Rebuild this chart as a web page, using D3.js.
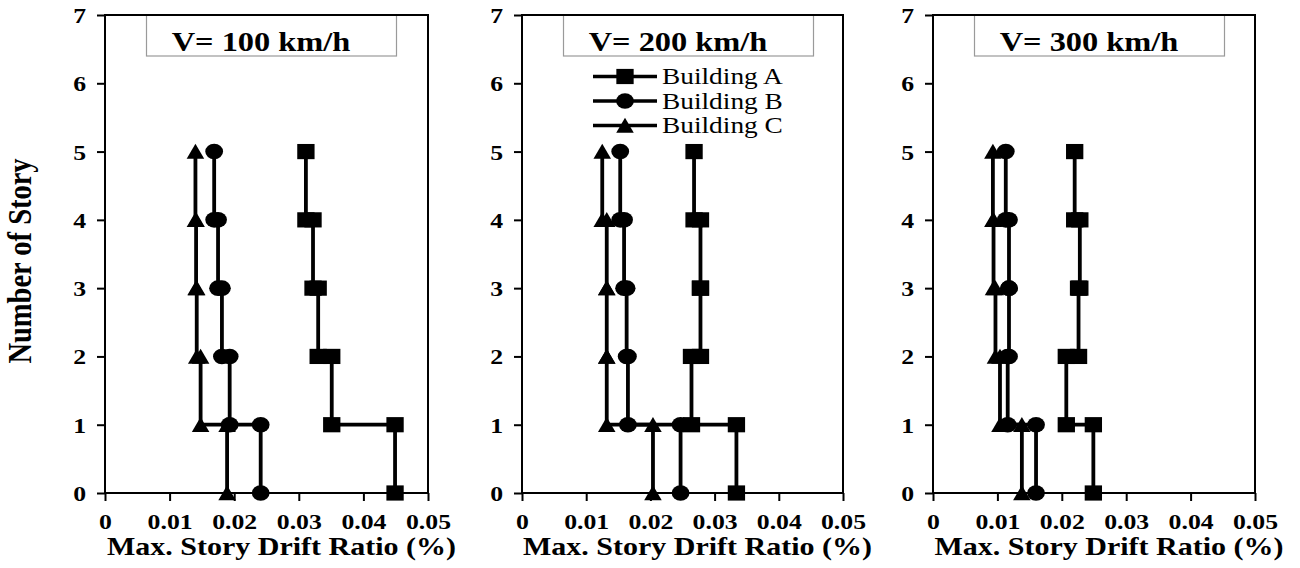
<!DOCTYPE html>
<html>
<head>
<meta charset="utf-8">
<script src="https://cdn.jsdelivr.net/npm/d3@7"></script>
<style>
  html, body { margin: 0; padding: 0; background: #fff; }
  svg { display: block; }
</style>
</head>
<body>
<svg id="chart" width="1300" height="568"></svg>
<script>
// ---------------- data ----------------
const speeds = ["V= 100 km/h", "V= 200 km/h", "V= 300 km/h"];
const buildings = ["Building A", "Building B", "Building C"];
const markerTypes = ["square", "circle", "triangle"];
const stories = [1, 2, 3, 4, 5];
const xTicks = [0, 0.01, 0.02, 0.03, 0.04, 0.05];
const yTicks = [0, 1, 2, 3, 4, 5, 6, 7];

// max story drift ratio per story (story 1..5)
const v100A = [0.0449, 0.0351, 0.0330, 0.0322, 0.0311];
const v100B = [0.0241, 0.0193, 0.0181, 0.0175, 0.0169];
const v100C = [0.0189, 0.0148, 0.0142, 0.0141, 0.0140];

const v200A = [0.0334, 0.0264, 0.0278, 0.0278, 0.0268];
const v200B = [0.0247, 0.0165, 0.0163, 0.0159, 0.0153];
const v200C = [0.0204, 0.0132, 0.0132, 0.0132, 0.0125];

const v300A = [0.0249, 0.0207, 0.0226, 0.0228, 0.0220];
const v300B = [0.0160, 0.0116, 0.0118, 0.0118, 0.0113];
const v300C = [0.0138, 0.0104, 0.0097, 0.0094, 0.0093];

const panelSeries = [
  [v100A, v100B, v100C],
  [v200A, v200B, v200C],
  [v300A, v300B, v300C]
];

// ---------------- layout ----------------
const FONT = "'Liberation Serif', 'Times New Roman', Times, serif";
const SX = 1.17; // horizontal stretch of the original raster
const panelLeft = [105, 522, 933];
const panelWidth = [323, 321, 322];
const plotTop = 15, plotBottom = 493;

const svg = d3.select("#chart");

function stepPoints(vals) {
  const pts = [];
  stories.forEach((s, i) => {
    pts.push([vals[i], s - 1]);
    pts.push([vals[i], s]);
  });
  return pts;
}

function drawMarker(sel, type, cx, cy) {
  const g = sel.append("g").attr("transform", `translate(${cx},${cy}) scale(${SX},1)`);
  if (type === "square") {
    g.append("rect").attr("x", -7.4).attr("y", -7.6).attr("width", 14.8).attr("height", 15.2).attr("fill", "#000");
  } else if (type === "circle") {
    g.append("ellipse").attr("rx", 7.6).attr("ry", 7.8).attr("fill", "#000");
  } else {
    g.append("path").attr("d", "M0,-7.8 L7.5,7.2 L-7.5,7.2 Z").attr("fill", "#000");
  }
}

panelSeries.forEach((series, p) => {
  const left = panelLeft[p], W = panelWidth[p];
  const x = d3.scaleLinear().domain([0, 0.05]).range([left, left + W]);
  const y = d3.scaleLinear().domain([0, 7]).range([plotBottom, plotTop]);
  const g = svg.append("g");

  // title box
  g.append("rect")
    .attr("x", left + 41.5).attr("y", plotTop).attr("width", 250).attr("height", 41)
    .attr("fill", "#fff").attr("stroke", "#9a9a9a").attr("stroke-width", 1.2);
  g.append("text")
    .attr("transform", `translate(${left + 156},${plotTop + 36}) scale(1.2,1)`)
    .attr("text-anchor", "middle")
    .attr("font-family", FONT).attr("font-weight", "bold").attr("font-size", 27)
    .text(speeds[p]);

  // frame
  g.append("rect")
    .attr("x", left).attr("y", plotTop).attr("width", W).attr("height", plotBottom - plotTop)
    .attr("fill", "none").attr("stroke", "#000").attr("stroke-width", 2);

  // axes
  const yAxis = d3.axisLeft(y).tickValues(yTicks).tickSize(8).tickSizeOuter(0).tickFormat(d3.format("d"));
  g.append("g").attr("transform", `translate(${left},0)`).call(yAxis)
    .call(a => {
      a.select(".domain").remove();
      a.selectAll(".tick line").attr("stroke", "#000").attr("stroke-width", 2);
      a.selectAll(".tick text")
        .attr("font-family", FONT).attr("font-weight", "bold").attr("font-size", 22)
        .attr("fill", "#000")
        .attr("x", -19 / SX).attr("dy", "0.34em")
        .attr("transform", `scale(${SX},1)`);
    });

  const xAxis = d3.axisBottom(x).tickValues(xTicks).tickSize(8).tickSizeOuter(0)
    .tickFormat(d => d === 0 ? "0" : d.toFixed(2));
  g.append("g").attr("transform", `translate(0,${plotBottom})`).call(xAxis)
    .call(a => {
      a.select(".domain").remove();
      a.selectAll(".tick line").attr("stroke", "#000").attr("stroke-width", 2);
      a.selectAll(".tick text")
        .attr("font-family", FONT).attr("font-weight", "bold").attr("font-size", 22)
        .attr("fill", "#000")
        .attr("y", 36).attr("dy", 0)
        .attr("transform", `scale(${SX},1)`);
    });

  // x-axis title
  g.append("text")
    .attr("transform", `translate(${left + W / 2 + 15},555) scale(1.2,1)`)
    .attr("text-anchor", "middle")
    .attr("font-family", FONT).attr("font-weight", "bold").attr("font-size", 25)
    .text("Max. Story Drift Ratio (%)");

  // series
  const line = d3.line().x(d => x(d[0])).y(d => y(d[1]));
  series.forEach((vals, k) => {
    const pts = stepPoints(vals);
    g.append("path").attr("d", line(pts))
      .attr("fill", "none").attr("stroke", "#000").attr("stroke-width", 3.8)
      .attr("stroke-linejoin", "miter");
    pts.forEach(pt => drawMarker(g, markerTypes[k], x(pt[0]), y(pt[1])));
  });

  // legend (middle panel only)
  if (p === 1) {
    buildings.forEach((name, k) => {
      const ly = 76.5 + k * 24.5;
      g.append("line")
        .attr("x1", left + 71).attr("x2", left + 135).attr("y1", ly).attr("y2", ly)
        .attr("stroke", "#000").attr("stroke-width", 3.4);
      drawMarker(g, markerTypes[k], left + 103, ly);
      g.append("text")
        .attr("transform", `translate(${left + 140},${ly + 7.5}) scale(1.19,1)`)
        .attr("font-family", FONT).attr("font-size", 23)
        .text(name);
    });
  }
});

// y-axis title
svg.append("text")
  .attr("transform", "translate(31,261) rotate(-90) scale(1,1.17)")
  .attr("text-anchor", "middle")
  .attr("font-family", FONT).attr("font-weight", "bold").attr("font-size", 28.5)
  .text("Number of Story");
</script>
</body>
</html>
